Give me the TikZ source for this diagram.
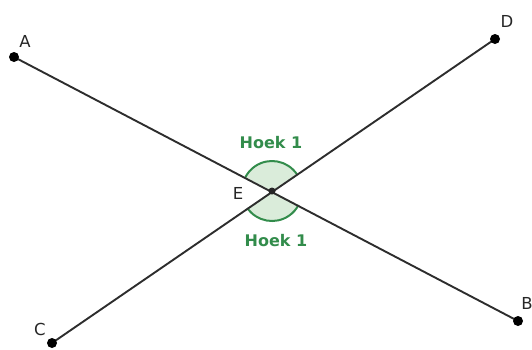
\documentclass[tikz,border=0pt]{standalone}
\usepackage{fontspec}
\setmainfont{DejaVu Sans}
\usepackage{xcolor}
\usepackage{tikz}
\usetikzlibrary{angles, positioning}

\definecolor{hoekgreen}{RGB}{50,140,75}
\definecolor{hoekfill}{RGB}{218,236,218}
\definecolor{linegray}{RGB}{45,45,45}

\begin{document}
\begin{tikzpicture}[x=1pt, y=-1pt,
    pt/.style={circle, fill=black, inner sep=0pt, minimum size=10pt},
    smallpt/.style={circle, fill=black!85, inner sep=0pt, minimum size=7pt},
    lbl/.style={font=\fontsize{16.5}{16.5}\selectfont, text=black!85, inner sep=0pt},
    hoeklbl/.style={font=\fontsize{16}{16}\selectfont\bfseries, text=hoekgreen, inner sep=0pt},
    seg/.style={draw=linegray, line width=1.9pt},
    hoek/.style={draw=hoekgreen, fill=hoekfill, line width=2pt, angle radius=30pt}
]
\useasboundingbox (0,0) rectangle (532,349);

% punten
\coordinate (A) at (14,57);
\coordinate (B) at (518,321);
\coordinate (C) at (52,343);
\coordinate (D) at (495,39);
\coordinate (E) at (272,191);

% hoeken
\pic [hoek] {angle = D--E--A};
\pic [hoek] {angle = C--E--B};

% lijnen
\draw [seg] (A) -- (B);
\draw [seg] (C) -- (D);

\node (pA) [pt] at (A) {};
\node (pB) [pt] at (B) {};
\node (pC) [pt] at (C) {};
\node (pD) [pt] at (D) {};
\node (pE) [smallpt] at (E) {};

% labels
\node (lA) [lbl] at (25,41) {A};
\node (lB) [lbl] at (527,303) {B};
\node (lC) [lbl] at (40,329) {C};
\node (lD) [lbl] at (507,21) {D};
\node (lE) [lbl] at (238,193) {E};
\node (h1) [hoeklbl] at (271,143) {Hoek 1};
\node (h2) [hoeklbl] at (276,241) {Hoek 1};

\end{tikzpicture}
\end{document}
